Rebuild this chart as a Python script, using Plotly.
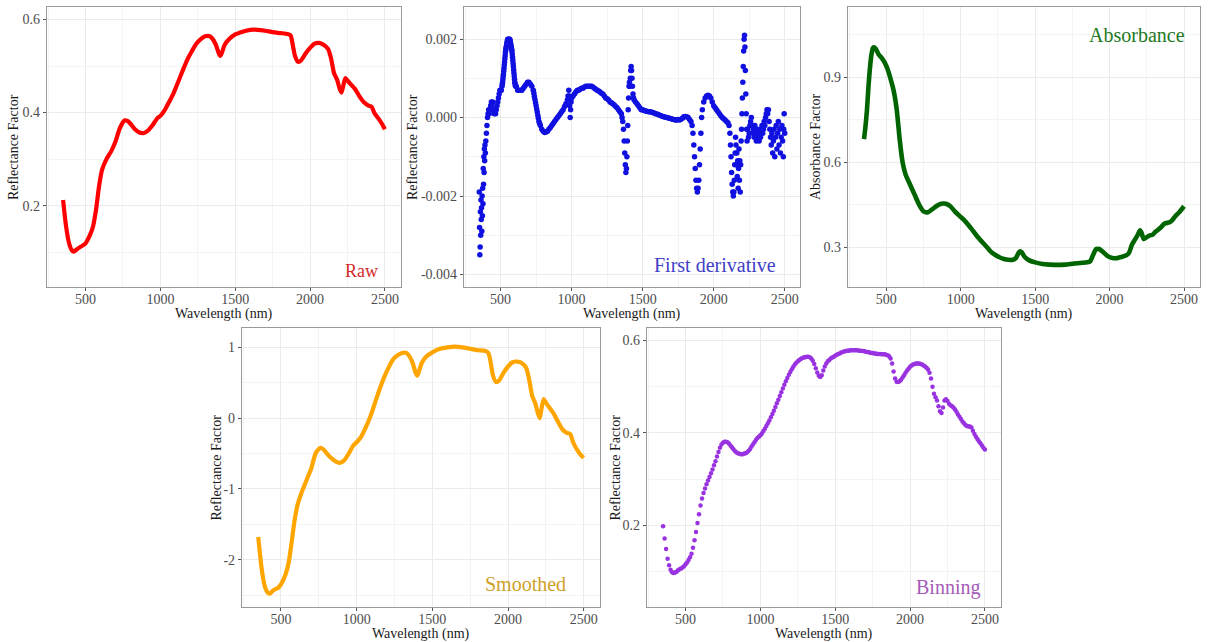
import plotly.graph_objects as go

# ---------------------------------------------------------------- data
# Raw reflectance spectrum (nm, reflectance)
raw_wavelength = [350, 370, 390, 410, 420, 450, 480, 500, 530, 550, 570, 590, 610, 640, 670,
                  700, 730, 760, 780, 800, 830, 860, 890, 920, 950, 980, 1000, 1030, 1060, 1090,
                  1120, 1150, 1180, 1210, 1240, 1270, 1300, 1330, 1350, 1370, 1390, 1400, 1410,
                  1430, 1460, 1500, 1550, 1600, 1650, 1700, 1750, 1800, 1850, 1870, 1880, 1900,
                  1920, 1940, 1970, 2000, 2030, 2060, 2090, 2120, 2140, 2160, 2180, 2200, 2210,
                  2220, 2235, 2250, 2280, 2300, 2330, 2360, 2390, 2410, 2430, 2460, 2480, 2500]
raw_reflectance = [0.212, 0.155, 0.119, 0.103, 0.101, 0.108, 0.114, 0.119, 0.137, 0.155, 0.191,
                   0.241, 0.277, 0.300, 0.316, 0.338, 0.367, 0.383, 0.382, 0.376, 0.364, 0.357,
                   0.356, 0.362, 0.374, 0.388, 0.393, 0.406, 0.424, 0.443, 0.467, 0.491, 0.514,
                   0.532, 0.548, 0.558, 0.564, 0.564, 0.558, 0.546, 0.528, 0.522, 0.528, 0.546,
                   0.558, 0.568, 0.574, 0.578, 0.578, 0.576, 0.573, 0.571, 0.569, 0.566, 0.553,
                   0.521, 0.509, 0.512, 0.527, 0.539, 0.548, 0.550, 0.546, 0.537, 0.517, 0.485,
                   0.471, 0.449, 0.443, 0.455, 0.474, 0.469, 0.458, 0.451, 0.435, 0.422, 0.415,
                   0.413, 0.399, 0.386, 0.376, 0.364]

# First derivative of reflectance
deriv_wavelength = [350, 352, 354, 356, 358, 360, 362, 364, 366, 368, 370, 372, 374, 376, 378,
                    380, 382, 384, 386, 388, 390, 393, 396, 400, 404, 408, 412, 416, 420, 425,
                    430, 435, 440, 445, 450, 455, 460, 465, 470, 475, 480, 485, 490, 495, 500,
                    505, 510, 512, 514, 516, 518, 520, 522, 524, 526, 528, 530, 532, 534, 536,
                    538, 540, 542, 544, 546, 548, 550, 555, 560, 565, 568, 570, 572, 574, 576,
                    578, 580, 582, 584, 586, 588, 590, 592, 594, 596, 598, 600, 602, 604, 606,
                    610, 620, 630, 640, 650, 660, 670, 680, 690, 700, 710, 720, 730, 734, 738,
                    742, 746, 750, 754, 758, 762, 766, 770, 775, 780, 790, 800, 810, 820, 830,
                    840, 850, 860, 870, 880, 890, 900, 910, 920, 930, 940, 950, 960, 970, 975,
                    980, 983, 986, 990, 993, 996, 1000, 1010, 1020, 1030, 1040, 1050, 1060, 1070,
                    1080, 1090, 1100, 1110, 1120, 1130, 1140, 1150, 1160, 1170, 1180, 1190, 1200,
                    1210, 1220, 1230, 1240, 1250, 1260, 1270, 1280, 1290, 1300, 1310, 1320, 1330,
                    1340, 1350, 1355, 1360, 1365, 1370, 1374, 1378, 1382, 1386, 1389, 1392, 1395,
                    1398, 1401, 1404, 1407, 1410, 1413, 1416, 1419, 1422, 1425, 1428, 1432, 1436,
                    1440, 1450, 1460, 1470, 1480, 1490, 1500, 1510, 1520, 1530, 1540, 1550, 1560,
                    1570, 1580, 1590, 1600, 1610, 1620, 1630, 1640, 1650, 1660, 1670, 1680, 1690,
                    1700, 1710, 1720, 1730, 1740, 1750, 1760, 1770, 1780, 1790, 1800, 1810, 1820,
                    1830, 1840, 1848, 1854, 1860, 1865, 1870, 1875, 1880, 1885, 1890, 1895, 1900,
                    1905, 1910, 1915, 1920, 1930, 1940, 1950, 1960, 1970, 1980, 1990, 2000, 2010,
                    2020, 2030, 2040, 2050, 2060, 2070, 2080, 2090, 2100, 2108, 2114, 2118, 2122,
                    2126, 2130, 2134, 2138, 2142, 2145, 2148, 2151, 2154, 2157, 2160, 2163, 2166,
                    2169, 2172, 2175, 2178, 2181, 2184, 2187, 2190, 2193, 2196, 2199, 2202, 2205,
                    2208, 2211, 2214, 2217, 2220, 2223, 2226, 2229, 2232, 2235, 2240, 2245, 2250,
                    2255, 2260, 2265, 2270, 2275, 2280, 2285, 2290, 2295, 2300, 2305, 2310, 2315,
                    2320, 2325, 2330, 2335, 2340, 2345, 2350, 2355, 2360, 2365, 2370, 2375, 2380,
                    2385, 2390, 2395, 2400, 2405, 2410, 2415, 2420, 2425, 2430, 2435, 2440, 2445,
                    2450, 2455, 2460, 2465, 2470, 2475, 2480, 2485, 2490, 2493, 2496, 2500]
deriv_value = [-0.0019, -0.0028, -0.0035, -0.0033, -0.0024, -0.0030, -0.0021, -0.0026, -0.0023,
               -0.0029, -0.0020, -0.0025, -0.0018, -0.0022, -0.0013, -0.0017, -0.0010, -0.0014,
               -0.0008, -0.0011, -0.0007, -0.0009, -0.0006, -0.0004, -0.0002, 0.0000, 0.0001,
               0.0002, 0.0001, 0.0002, 0.0003, 0.0004, 0.0003, 0.0004, 0.0002, 0.0001, 0.0002,
               0.0001, 0.0002, 0.0003, 0.0004, 0.0005, 0.0006, 0.0007, 0.0007, 0.0007,
               0.0008, 0.00085, 0.0009, 0.00097, 0.00104, 0.0011, 0.00118, 0.00126, 0.00134,
               0.00142, 0.0015, 0.00158, 0.00166, 0.00172, 0.00177, 0.0018, 0.00184, 0.00188,
               0.00192, 0.00196, 0.0020, 0.0020, 0.0020, 0.0020, 0.00195, 0.0019, 0.00186,
               0.00182, 0.00178, 0.00173, 0.0017, 0.00162, 0.00154, 0.00146, 0.00138, 0.0013,
               0.00122, 0.00114, 0.00106, 0.00098, 0.0009, 0.00086, 0.00082, 0.0008,
               0.0008, 0.0007, 0.0007, 0.0007, 0.0007, 0.00075, 0.0008, 0.00085, 0.0009, 0.0009,
               0.00085, 0.0008, 0.0007, 0.00062, 0.00054, 0.00046, 0.00038, 0.0003, 0.00022,
               0.00014, 0.00006, -0.00002, -0.0001, -0.00015, -0.0002, -0.0003, -0.00035,
               -0.00038, -0.00037, -0.00035, -0.0003, -0.00025, -0.0002, -0.00015, -0.0001,
               -0.00005, 0.0000, 0.00005, 0.0001, 0.00015, 0.0002, 0.00028, 0.00035, 0.00045,
               0.00055, 0.0007, 0.00055, 0.0003, 0.0000, 0.0002, 0.0004, 0.0005, 0.00055, 0.0006,
               0.00065, 0.0007, 0.0007, 0.00072, 0.00075, 0.00075, 0.00078, 0.0008, 0.0008,
               0.0008, 0.0008, 0.0008, 0.00078, 0.00075, 0.00072, 0.0007, 0.00068, 0.00065,
               0.00062, 0.0006, 0.00055, 0.0005, 0.00048, 0.00045, 0.0004, 0.00038, 0.00035,
               0.00032, 0.00028, 0.00025, 0.0002, 0.00015, 0.0001, 0.0000, -0.0001, -0.0003,
               -0.0006, -0.0009, -0.0012, -0.0014, -0.0013, -0.0010, -0.0006, -0.0002, 0.0002,
               0.0005, 0.0008, 0.0009, 0.0008, 0.0010, 0.0012, 0.0013, 0.0012, 0.0010, 0.0008,
               0.0006, 0.0005, 0.00045, 0.0004, 0.00035, 0.0003, 0.00025, 0.0002, 0.0002,
               0.00018, 0.00017, 0.00016, 0.00015, 0.00015, 0.00014, 0.00013, 0.00012, 0.0001,
               0.00009, 0.00008, 0.00006, 0.00005, 0.00003, 0.00002, 0.00001, 0.0000, -0.00001,
               -0.00002, -0.00003, -0.00004, -0.00005, -0.00006, -0.00006, -0.00005, -0.00006,
               -0.00004, -0.00002, 0.00002, 0.00003, 0.00002, 0.0000, -0.00005, -0.0001, -0.0002,
               -0.0004, -0.0007, -0.0010, -0.0013, -0.0016, -0.0018, -0.0019, -0.0018, -0.0016,
               -0.0012, -0.0008, -0.0004, 0.0000, 0.0002, 0.0004, 0.0005, 0.00055, 0.00057,
               0.00055, 0.0005, 0.0004, 0.0003, 0.00025, 0.0002, 0.00015, 0.0001, 0.00005, 0.0000,
               -0.00003, -0.00006, -0.0001, -0.00013, -0.0002, -0.0004, -0.0007, -0.0010, -0.0014,
               -0.0017, -0.0019, -0.0020, -0.0019, -0.0016, -0.0012, -0.0009, -0.0005, -0.0007,
               -0.0012, -0.0009, -0.0015, -0.0011, -0.0018, -0.0013, -0.0008, -0.0016, -0.0011,
               -0.0019, -0.0012, -0.0006, -0.0003, 0.0001, 0.0005, 0.0009, 0.0013, 0.0017, 0.0020,
               0.0021, 0.0018, 0.0012, 0.0006, 0.0001, -0.0003, -0.0006, -0.0003, -0.0005, -0.0004,
               -0.0002, -0.0001, 0.0000, -0.0002, -0.0004, -0.0003, -0.0005, -0.0002, -0.0004,
               -0.0006, -0.0003, -0.0005, -0.0004, -0.0006, -0.0003, -0.0005, -0.0004, -0.0002,
               -0.0004, -0.0003, -0.0001, -0.0002, 0.0000, 0.0001, 0.0002, 0.0001, 0.0002, -0.0001,
               -0.0003, -0.0005, -0.0007, -0.0004, -0.0009, -0.0006, -0.0003, -0.0010, -0.0005,
               -0.0002, -0.0008, -0.0004, -0.0001, -0.0007, -0.0003, -0.0009, -0.0005, -0.0002,
               -0.0006, -0.0010, -0.0003, 0.0001, -0.0004]

# Absorbance, log(1/R)
abs_wavelength = [350, 360, 370, 380, 390, 400, 410, 420, 430, 450, 470, 490, 510, 530, 550, 570,
                  590, 610, 630, 660, 690, 720, 750, 780, 810, 840, 870, 900, 930, 960, 990, 1020,
                  1050, 1080, 1110, 1140, 1170, 1200, 1230, 1260, 1290, 1320, 1350, 1370, 1390,
                  1400, 1410, 1430, 1460, 1500, 1550, 1600, 1650, 1700, 1750, 1800, 1850, 1870,
                  1890, 1910, 1930, 1960, 1990, 2020, 2050, 2080, 2110, 2130, 2150, 2170, 2190,
                  2205, 2215, 2230, 2250, 2270, 2290, 2310, 2340, 2370, 2400, 2420, 2440, 2470, 2500]
absorbance = [0.682, 0.727, 0.786, 0.868, 0.933, 0.980, 1.004, 1.006, 1.000, 0.980, 0.968, 0.951,
              0.927, 0.892, 0.851, 0.786, 0.680, 0.598, 0.556, 0.521, 0.486, 0.451, 0.427, 0.424,
              0.435, 0.447, 0.454, 0.454, 0.445, 0.427, 0.412, 0.398, 0.380, 0.360, 0.339, 0.321,
              0.304, 0.286, 0.274, 0.265, 0.259, 0.256, 0.256, 0.262, 0.282, 0.286, 0.282, 0.266,
              0.254, 0.247, 0.241, 0.239, 0.238, 0.239, 0.242, 0.245, 0.247, 0.251, 0.274, 0.294,
              0.294, 0.282, 0.268, 0.262, 0.262, 0.266, 0.271, 0.280, 0.309, 0.327, 0.345, 0.360,
              0.351, 0.329, 0.336, 0.342, 0.345, 0.356, 0.368, 0.384, 0.388, 0.395, 0.409, 0.425,
              0.445]

# Smoothed (standardised) spectrum
smooth_wavelength = [350, 370, 390, 410, 425, 450, 480, 500, 530, 550, 570, 590, 610, 640, 670,
                     700, 730, 760, 780, 800, 830, 860, 890, 920, 950, 980, 1000, 1030, 1060,
                     1090, 1120, 1150, 1180, 1210, 1240, 1270, 1300, 1330, 1350, 1370, 1390, 1400,
                     1410, 1430, 1460, 1500, 1550, 1600, 1650, 1700, 1750, 1800, 1850, 1870, 1880,
                     1900, 1920, 1940, 1970, 2000, 2030, 2060, 2090, 2120, 2140, 2160, 2180, 2200,
                     2210, 2220, 2235, 2250, 2280, 2300, 2330, 2360, 2390, 2410, 2430, 2460, 2480,
                     2500]
smoothed = [-1.68, -2.09, -2.35, -2.46, -2.48, -2.43, -2.40, -2.35, -2.21, -2.05, -1.76, -1.44,
            -1.22, -1.03, -0.87, -0.71, -0.49, -0.42, -0.44, -0.49, -0.56, -0.61, -0.63, -0.59,
            -0.49, -0.38, -0.34, -0.26, -0.13, 0.02, 0.21, 0.40, 0.57, 0.71, 0.83, 0.89, 0.92,
            0.92, 0.87, 0.78, 0.64, 0.60, 0.65, 0.78, 0.87, 0.93, 0.98, 1.00, 1.01, 1.00, 0.98,
            0.96, 0.95, 0.92, 0.85, 0.61, 0.51, 0.53, 0.64, 0.73, 0.79, 0.80, 0.78, 0.71, 0.54,
            0.31, 0.21, 0.05, 0.00, 0.12, 0.27, 0.22, 0.13, 0.07, -0.05, -0.16, -0.21, -0.22,
            -0.34, -0.46, -0.52, -0.56]

# Binned reflectance, 10 nm bins from 350 to 2500 nm
bin_wavelength = list(range(350, 2501, 10))
binned = [0.198, 0.172, 0.149, 0.128, 0.114, 0.104, 0.099, 0.097, 0.098, 0.100,
          0.103, 0.105, 0.107, 0.109, 0.112, 0.116, 0.120, 0.125, 0.131, 0.139,
          0.152, 0.168, 0.186, 0.205, 0.224, 0.243, 0.258, 0.270, 0.280, 0.289,
          0.297, 0.305, 0.313, 0.321, 0.330, 0.339, 0.349, 0.359, 0.368, 0.375,
          0.379, 0.381, 0.381, 0.380, 0.377, 0.373, 0.369, 0.365, 0.361, 0.358,
          0.356, 0.355, 0.354, 0.354, 0.355, 0.356, 0.358, 0.361, 0.365, 0.370,
          0.375, 0.380, 0.385, 0.389, 0.392, 0.395, 0.399, 0.404, 0.409, 0.415,
          0.421, 0.427, 0.434, 0.441, 0.448, 0.456, 0.464, 0.472, 0.480, 0.488,
          0.496, 0.504, 0.512, 0.519, 0.526, 0.532, 0.538, 0.543, 0.548, 0.552,
          0.555, 0.558, 0.560, 0.562, 0.563, 0.564, 0.565, 0.565, 0.564, 0.561,
          0.556, 0.549, 0.540, 0.531, 0.524, 0.521, 0.525, 0.535, 0.544, 0.550,
          0.555, 0.558, 0.561, 0.563, 0.565, 0.567, 0.569, 0.571, 0.572, 0.574,
          0.575, 0.576, 0.577, 0.578, 0.578, 0.579, 0.579, 0.579, 0.579, 0.579,
          0.579, 0.578, 0.578, 0.577, 0.577, 0.576, 0.575, 0.575, 0.574, 0.573,
          0.573, 0.572, 0.572, 0.571, 0.571, 0.571, 0.570, 0.570, 0.570, 0.569,
          0.568, 0.566, 0.561, 0.550, 0.533, 0.518, 0.511, 0.510, 0.512, 0.515,
          0.520, 0.525, 0.530, 0.535, 0.539, 0.543, 0.546, 0.548, 0.549, 0.550,
          0.550, 0.550, 0.549, 0.548, 0.546, 0.544, 0.541, 0.537, 0.530, 0.518,
          0.500, 0.485, 0.477, 0.470, 0.458, 0.447, 0.443, 0.455, 0.470, 0.473,
          0.469, 0.463, 0.460, 0.458, 0.455, 0.451, 0.446, 0.440, 0.435, 0.430,
          0.425, 0.421, 0.417, 0.415, 0.414, 0.414, 0.412, 0.405, 0.398, 0.392,
          0.387, 0.382, 0.378, 0.373, 0.368, 0.364]

# Axis ticks
x_ticks = [500, 1000, 1500, 2000, 2500]
x_tick_labels = ["500", "1000", "1500", "2000", "2500"]
refl_ticks = [0.2, 0.4, 0.6]
refl_tick_labels = ["0.2", "0.4", "0.6"]
deriv_ticks = [-0.004, -0.002, 0.0, 0.002]
deriv_tick_labels = ["-0.004", "-0.002", "0.000", "0.002"]
abs_ticks = [0.3, 0.6, 0.9]
abs_tick_labels = ["0.3", "0.6", "0.9"]
smooth_ticks = [-2, -1, 0, 1]
smooth_tick_labels = ["-2", "-1", "0", "1"]

# ---------------------------------------------------------------- layout
W, H = 1209, 642
SERIF = "Liberation Serif, Times New Roman, serif"

# panel boxes in pixels: left, right, top, bottom
panels = [
    dict(box=(47, 401, 7, 287), yr=(0.025, 0.627), yt=(refl_ticks, refl_tick_labels), ym=0.1,
         ytitle="Reflectance Factor", ytx=14, label="Raw", lc="#d42a2a", lsize=18,
         lx=0.941, ly=0.056),
    dict(box=(464, 800, 7, 287), yr=(-0.00432, 0.00282), yt=(deriv_ticks, deriv_tick_labels),
         ym=0.001, ytitle="Reflectance Factor", ytx=413, label="First derivative",
         lc="#4040c8", lsize=20, lx=0.934, ly=0.078),
    dict(box=(848, 1200, 7, 287), yr=(0.160, 1.1485), yt=(abs_ticks, abs_tick_labels), ym=0.15,
         ytitle="Absorbance Factor", ytx=816, label="Absorbance", lc="#1f7a1f", lsize=20,
         lx=0.963, ly=0.901),
    dict(box=(242, 600, 328, 607), yr=(-2.668, 1.274), yt=(smooth_ticks, smooth_tick_labels),
         ym=0.5, ytitle="Reflectance Factor", ytx=216, label="Smoothed", lc="#cfa12a",
         lsize=20, lx=0.911, ly=0.0835),
    dict(box=(647, 1001, 328, 607), yr=(0.0236, 0.627), yt=(refl_ticks, refl_tick_labels),
         ym=0.1, ytitle="Reflectance Factor", ytx=615, label="Binning", lc="#a55bb8",
         lsize=20, lx=0.946, ly=0.069),
]

fig = go.Figure()

fig.add_trace(go.Scatter(x=raw_wavelength, y=raw_reflectance, mode="lines",
                         line=dict(color="#ff0000", width=4.2, shape="spline", smoothing=0.6),
                         xaxis="x", yaxis="y"))
fig.add_trace(go.Scatter(x=deriv_wavelength, y=deriv_value, mode="markers",
                         marker=dict(color="#1010e0", size=5.5),
                         xaxis="x2", yaxis="y2"))
fig.add_trace(go.Scatter(x=abs_wavelength, y=absorbance, mode="lines",
                         line=dict(color="#006400", width=4.6, shape="spline", smoothing=0.6),
                         xaxis="x3", yaxis="y3"))
fig.add_trace(go.Scatter(x=smooth_wavelength, y=smoothed, mode="lines",
                         line=dict(color="#ffa500", width=4.2, shape="spline", smoothing=0.6),
                         xaxis="x4", yaxis="y4"))
fig.add_trace(go.Scatter(x=bin_wavelength, y=binned, mode="markers",
                         marker=dict(color="#9932e0", size=4.5),
                         xaxis="x5", yaxis="y5"))

layout = dict(
    width=W, height=H, margin=dict(l=0, r=0, t=0, b=0),
    paper_bgcolor="white", plot_bgcolor="white", showlegend=False,
    font=dict(family=SERIF, color="#333333"),
)
annotations = []
for i, p in enumerate(panels, start=1):
    l, r, t, b = p["box"]
    sfx = "" if i == 1 else str(i)
    layout["xaxis" + sfx] = dict(
        domain=[l / W, r / W], anchor="y" + sfx, range=[242.5, 2607.5],
        tickvals=x_ticks, ticktext=x_tick_labels, ticks="outside", ticklen=3,
        ticklabelstandoff=-4,
        tickcolor="#555555", tickfont=dict(size=14, color="#4d4d4d", family=SERIF),
        showgrid=True, gridcolor="#ebebeb", gridwidth=1,
        minor=dict(dtick=250, tick0=250, showgrid=True, gridcolor="#f4f4f4", gridwidth=1),
        showline=True, mirror=True, linecolor="#9a9a9a", linewidth=1.2, zeroline=False,
    )
    layout["yaxis" + sfx] = dict(
        domain=[1 - b / H, 1 - t / H], anchor="x" + sfx, range=list(p["yr"]),
        tickvals=p["yt"][0], ticktext=p["yt"][1], ticks="outside", ticklen=3,
        tickcolor="#555555", tickfont=dict(size=14, color="#4d4d4d", family=SERIF),
        showgrid=True, gridcolor="#ebebeb", gridwidth=1,
        minor=dict(dtick=p["ym"] * 2, tick0=p["yt"][0][0] + p["ym"], showgrid=True,
                   gridcolor="#f4f4f4", gridwidth=1),
        showline=True, mirror=True, linecolor="#9a9a9a", linewidth=1.2, zeroline=False,
    )
    # x axis title
    annotations.append(dict(text="Wavelength (nm)", xref="paper", yref="paper",
                            x=(l + r) / 2 / W, y=1 - (b + 27) / H, showarrow=False,
                            xanchor="center", yanchor="middle",
                            font=dict(size=14, color="#1a1a1a", family=SERIF)))
    # y axis title
    annotations.append(dict(text=p["ytitle"], xref="paper", yref="paper",
                            x=p["ytx"] / W, y=1 - (t + b) / 2 / H, showarrow=False,
                            textangle=-90, xanchor="center", yanchor="middle",
                            font=dict(size=14, color="#1a1a1a", family=SERIF)))
    # panel label
    annotations.append(dict(text=p["label"], xref="x" + sfx + " domain",
                            yref="y" + sfx + " domain", x=p["lx"], y=p["ly"],
                            showarrow=False, xanchor="right", yanchor="middle",
                            font=dict(size=p["lsize"], color=p["lc"], family=SERIF)))
layout["annotations"] = annotations
fig.update_layout(**layout)

fig.write_html("out.html", config={"displayModeBar": False})
